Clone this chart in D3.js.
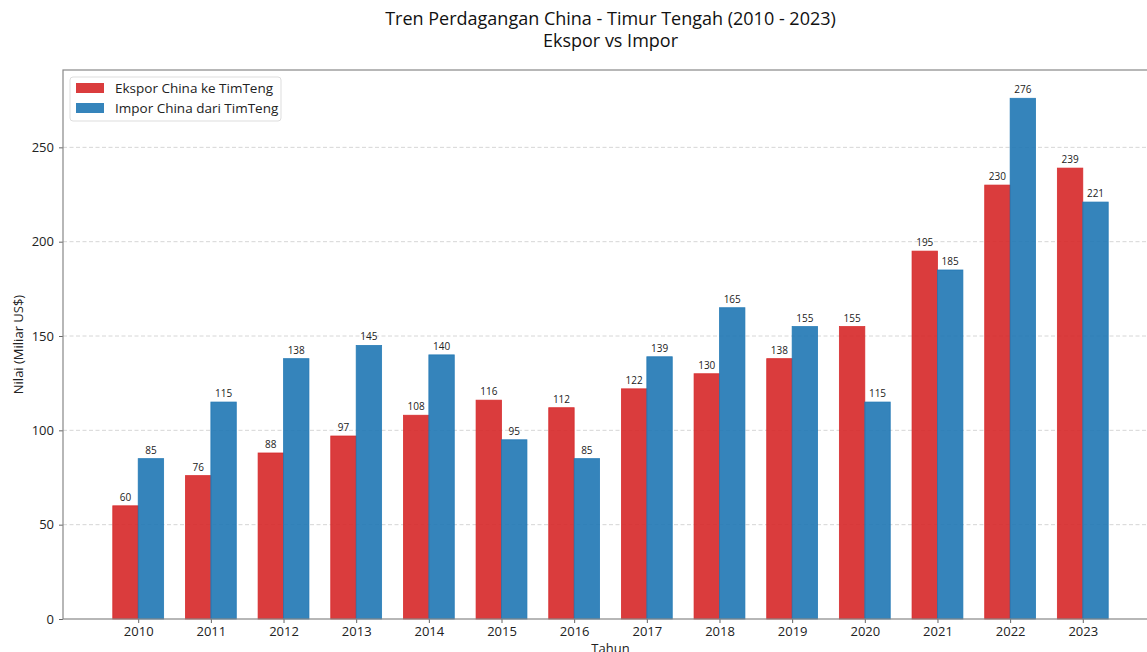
<!DOCTYPE html>
<html>
<head>
<meta charset="utf-8">
<script src="https://cdn.jsdelivr.net/npm/d3@7"></script>
<style>
  html, body { margin: 0; padding: 0; background: #fff; }
  svg { display: block; font-family: "Open Sans", "Lato", sans-serif; }
</style>
</head>
<body>
<div id="chart"></div>
<script>
// data
const years = ['2010', '2011', '2012', '2013', '2014', '2015', '2016', '2017', '2018', '2019', '2020', '2021', '2022', '2023'];
const ekspor = [60, 76, 88, 97, 108, 116, 112, 122, 130, 138, 155, 195, 230, 239];
const impor = [85, 115, 138, 145, 140, 95, 85, 139, 165, 155, 115, 185, 276, 221];
const yTicks = [0, 50, 100, 150, 200, 250];
const seriesNames = ['Ekspor China ke TimTeng', 'Impor China dari TimTeng'];
const seriesColors = ['#d62728', '#1f77b4'];

const width = 1147, height = 652;
const margin = { top: 70, left: 63, right: -11, bottom: 33 };
const plotW = width - margin.left - margin.right;
const plotH = height - margin.top - margin.bottom;

const svg = d3.select('#chart').append('svg')
  .attr('width', width)
  .attr('height', height);

const g = svg.append('g').attr('transform', `translate(${margin.left},${margin.top})`);

// x domain like matplotlib: bars span -0.35..13.35 plus 5% margin
const barW = 0.35;
const xPad = 0.05 * (years.length - 1 + 2 * barW);
const x = d3.scaleLinear().domain([-barW - xPad, years.length - 1 + barW + xPad]).range([0, plotW]);
const y = d3.scaleLinear().domain([0, 291]).range([plotH, 0]);

// grid
g.append('g').selectAll('line')
  .data(yTicks.slice(1))
  .enter().append('line')
  .attr('x1', 0).attr('x2', plotW)
  .attr('y1', d => y(d)).attr('y2', d => y(d))
  .attr('stroke', '#cccccc')
  .attr('stroke-width', 0.8)
  .attr('stroke-dasharray', '4,2.5');

// bars
const series = [ekspor, impor];
series.forEach((vals, s) => {
  const off = s === 0 ? -barW : 0;
  g.append('g').selectAll('rect')
    .data(vals)
    .enter().append('rect')
    .attr('x', (d, i) => x(i + off))
    .attr('y', d => y(d))
    .attr('width', x(barW) - x(0))
    .attr('height', d => plotH - y(d))
    .attr('fill', seriesColors[s])
    .attr('fill-opacity', 0.9)
    .attr('stroke', seriesColors[s])
    .attr('stroke-opacity', 0.9)
    .attr('stroke-width', 0.8);

  g.append('g').selectAll('text')
    .data(vals)
    .enter().append('text')
    .attr('x', (d, i) => x(i + off + barW / 2))
    .attr('y', d => y(d) - 5)
    .attr('text-anchor', 'middle')
    .attr('font-size', 10)
    .attr('fill', '#222')
    .text(d => d);
});

// axes
const yAxis = g.append('g')
  .call(d3.axisLeft(y).tickValues(yTicks).tickSize(4).tickPadding(5));
const xAxis = g.append('g')
  .attr('transform', `translate(0,${plotH})`)
  .call(d3.axisBottom(x).tickValues(d3.range(years.length)).tickFormat(i => years[i]).tickSize(4).tickPadding(4));
[yAxis, xAxis].forEach(a => {
  a.select('.domain').remove();
  a.selectAll('line').attr('stroke', '#666');
  a.selectAll('text').attr('font-size', 13).attr('fill', '#222').attr('font-family', '"Open Sans", sans-serif');
});

// spines
g.append('rect')
  .attr('x', 0).attr('y', 0)
  .attr('width', plotW).attr('height', plotH)
  .attr('fill', 'none')
  .attr('stroke', '#888')
  .attr('stroke-width', 1.2);

// axis titles
svg.append('text')
  .attr('x', margin.left + plotW / 2)
  .attr('y', 653)
  .attr('text-anchor', 'middle')
  .attr('font-size', 13)
  .attr('fill', '#222')
  .text('Tahun');
svg.append('text')
  .attr('transform', `translate(23,${margin.top + plotH / 2}) rotate(-90)`)
  .attr('text-anchor', 'middle')
  .attr('font-size', 13)
  .attr('fill', '#222')
  .text('Nilai (Miliar US$)');

// title
const title = svg.append('text')
  .attr('text-anchor', 'middle')
  .attr('font-size', 18)
  .attr('fill', '#111');
title.append('tspan').attr('x', margin.left + plotW / 2).attr('y', 25).text('Tren Perdagangan China - Timur Tengah (2010 - 2023)');
title.append('tspan').attr('x', margin.left + plotW / 2).attr('y', 47).text('Ekspor vs Impor');

// legend
const legend = svg.append('g').attr('transform', 'translate(70,77)');
legend.append('rect')
  .attr('width', 211).attr('height', 44)
  .attr('rx', 3)
  .attr('fill', '#fff').attr('fill-opacity', 0.8)
  .attr('stroke', '#ddd');
seriesNames.forEach((name, i) => {
  legend.append('rect')
    .attr('x', 6).attr('y', 6 + i * 20)
    .attr('width', 28).attr('height', 10)
    .attr('fill', seriesColors[i]).attr('fill-opacity', 0.9);
  legend.append('text')
    .attr('x', 45).attr('y', 16 + i * 20)
    .attr('font-size', 13.5)
    .attr('fill', '#222')
    .text(name);
});
</script>
</body>
</html>
